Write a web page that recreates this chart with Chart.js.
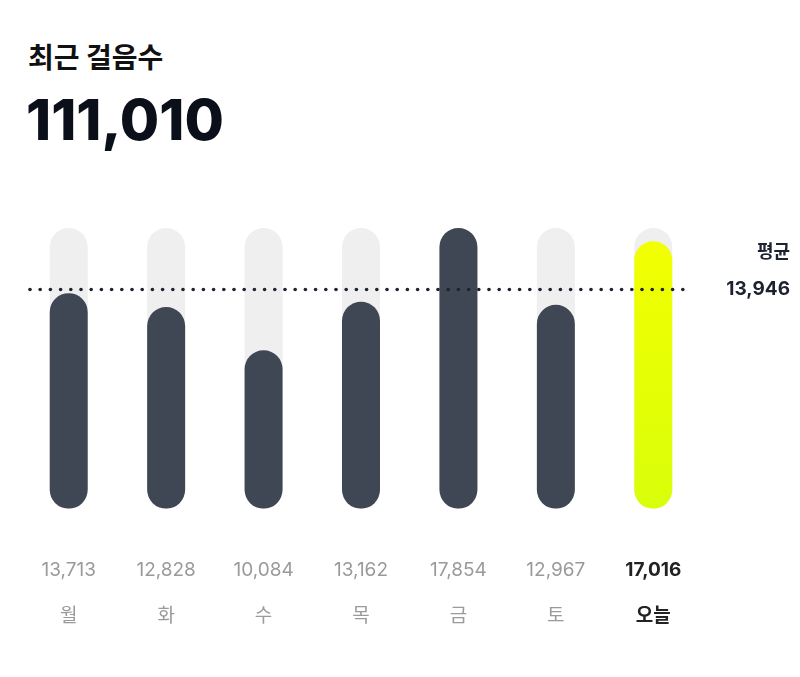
<!DOCTYPE html>
<html><head><meta charset="utf-8">
<script src="https://cdn.jsdelivr.net/npm/chart.js@4"></script>
<style>
body{margin:0;background:#fff;width:800px;height:677px;position:relative;font-family:"Noto Sans CJK KR","Noto Sans",sans-serif;overflow:hidden}
#t1{position:absolute;left:28px;top:40px;font-size:28px;font-weight:700;color:#111;line-height:1.2}
#t2{position:absolute;left:26px;top:86px;font-size:57px;font-weight:800;color:#0b0f1a;font-family:Inter,"Noto Sans",sans-serif;line-height:1.2}
#wrap{position:absolute;left:0;top:200px;width:800px;height:470px}
</style></head><body>
<div id="t1">최근 걸음수</div>
<div id="t2">111,010</div>
<div id="wrap"><canvas id="c" width="800" height="470" style="width:800px;height:470px"></canvas></div>
<script>
const days=["월","화","수","목","금","토","오늘"];
const steps=[13713,12828,10084,13162,17854,12967,17016];
const average=13946;
const maxSteps=17854;
const fmt=v=>v.toLocaleString('en-US');
const avgPlugin={id:'avg',afterDatasetsDraw(ch){
  const c=ch.ctx,y=ch.scales.y.getPixelForValue(average);
  c.save();c.fillStyle='#1c2230';
  for(let x=30;x<=690;x+=10.2){c.beginPath();c.arc(x,y,1.8,0,Math.PI*2);c.fill();}
  c.textAlign='right';c.textBaseline='middle';c.font='bold 18px "Noto Sans CJK KR"';
  c.fillText('평균',790,y-38);
  c.font='bold 19px Inter,"Noto Sans"';c.fillText(fmt(average),790,y);
  c.restore();}};
new Chart(document.getElementById('c'),{type:'bar',
 data:{labels:days.map((d,i)=>[fmt(steps[i]),d]),
  datasets:[
   {data:steps,grouped:false,borderRadius:19,borderSkipped:false,barPercentage:0.39,categoryPercentage:1,
    backgroundColor:(ctx)=>{
      if(ctx.dataIndex!==6)return '#3f4654';
      const a=ctx.chart.chartArea;if(!a)return '#eaff00';
      const g=ctx.chart.ctx.createLinearGradient(0,a.top,0,a.bottom);
      g.addColorStop(0,'#f4ff00');g.addColorStop(1,'#d8ff0a');return g;}},
   {data:steps.map(()=>maxSteps),grouped:false,borderRadius:19,borderSkipped:false,barPercentage:0.39,categoryPercentage:1,backgroundColor:'#efefef'}
  ]},
 options:{responsive:false,devicePixelRatio:1,animation:false,events:[],
  layout:{padding:{left:20,right:98,top:28,bottom:0}},
  plugins:{legend:{display:false},tooltip:{enabled:false}},
  scales:{
   y:{display:false,min:0,max:maxSteps},
   x:{grid:{display:false},border:{display:false},
      ticks:{padding:31,color:(c)=>c.index===6?'#222':'#9a9a9a',
       font:(c)=>({family:'Inter,"Noto Sans CJK KR"',size:19,weight:c.index===6?'bold':'normal',lineHeight:2.4})}}
  }},
 plugins:[avgPlugin]});
</script>
</body></html>
